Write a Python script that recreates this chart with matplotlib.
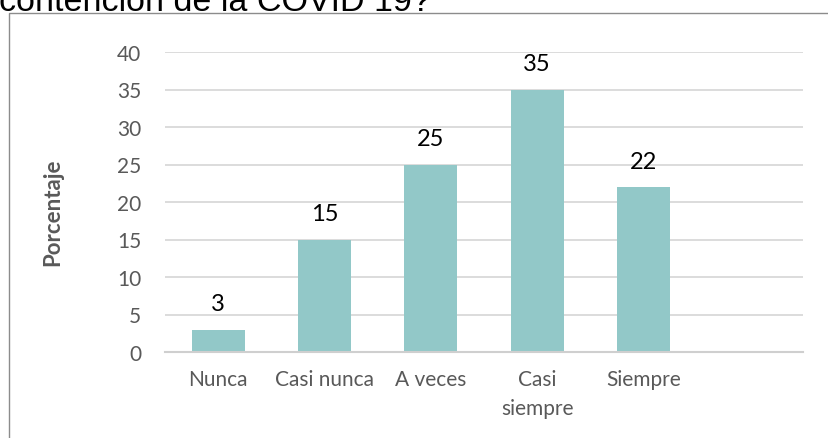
import matplotlib
matplotlib.use("Agg")
import matplotlib.pyplot as plt
from matplotlib.patches import Rectangle

# survey answers (percent)
categorias = ["Nunca", "Casi nunca", "A veces", "Casi\nsiempre", "Siempre", ""]
porcentajes = [3, 15, 25, 35, 22]
yticks = [0, 5, 10, 15, 20, 25, 30, 35, 40]
titulo = "contención de la COVID 19?"

W, H = 829, 439
fig = plt.figure(figsize=(W / 100, H / 100), dpi=100)
fig.patch.set_facecolor("white")

# chart frame, cut at the right and bottom edges
fig.patches.append(Rectangle((9.5 / W, -0.2), 1.2, 1.2 - 13.5 / H,
                             transform=fig.transFigure, fill=False,
                             edgecolor="#8c8c8c", linewidth=1.0))

# title text, partly above the visible area
fig.text(-1 / W, 1 - 11 / H, titulo, fontsize=24.5, family="Liberation Sans",
         color="black", va="baseline", ha="left")

ax = fig.add_axes([165 / W, 1 - 353 / H, (803 - 165) / W, (353 - 53) / H])
x = list(range(len(porcentajes)))
ax.bar(x, porcentajes, width=0.5, color="#92c8c8", zorder=3)

ax.set_xlim(-0.5, len(categorias) - 0.5)
ax.set_ylim(0, 40)
ax.set_yticks(yticks)
ax.set_xticks(range(len(categorias)))
ax.set_xticklabels(categorias, family="Lato", fontsize=15, color="#595959",
                   linespacing=1.6, va="top")
ax.tick_params(axis="y", length=0, pad=17, labelsize=15, labelcolor="#595959")
ax.tick_params(axis="x", length=0, pad=12)
for lab in ax.get_yticklabels():
    lab.set_family("Lato")

ax.grid(axis="y", color="#d9d9d9", linewidth=1.3, zorder=0)
for s in ["top", "right", "left"]:
    ax.spines[s].set_visible(False)
ax.spines["bottom"].set_color("#cfcfcf")
ax.spines["bottom"].set_linewidth(1.5)
ax.spines["bottom"].set_zorder(4)

for xi, v in zip(x, porcentajes):
    ax.annotate(str(v), (xi, v), xytext=(0, 18.5), textcoords="offset points",
                ha="center", va="center", fontsize=17, family="Lato",
                color="black")

ax.set_ylabel("Porcentaje", family="Lato", fontsize=16, fontweight="bold",
              color="#595959")
ax.yaxis.set_label_coords(-(165 - 63) / (803 - 165), (353 - 212) / (353 - 53))

fig.savefig("out.png", dpi=100)
